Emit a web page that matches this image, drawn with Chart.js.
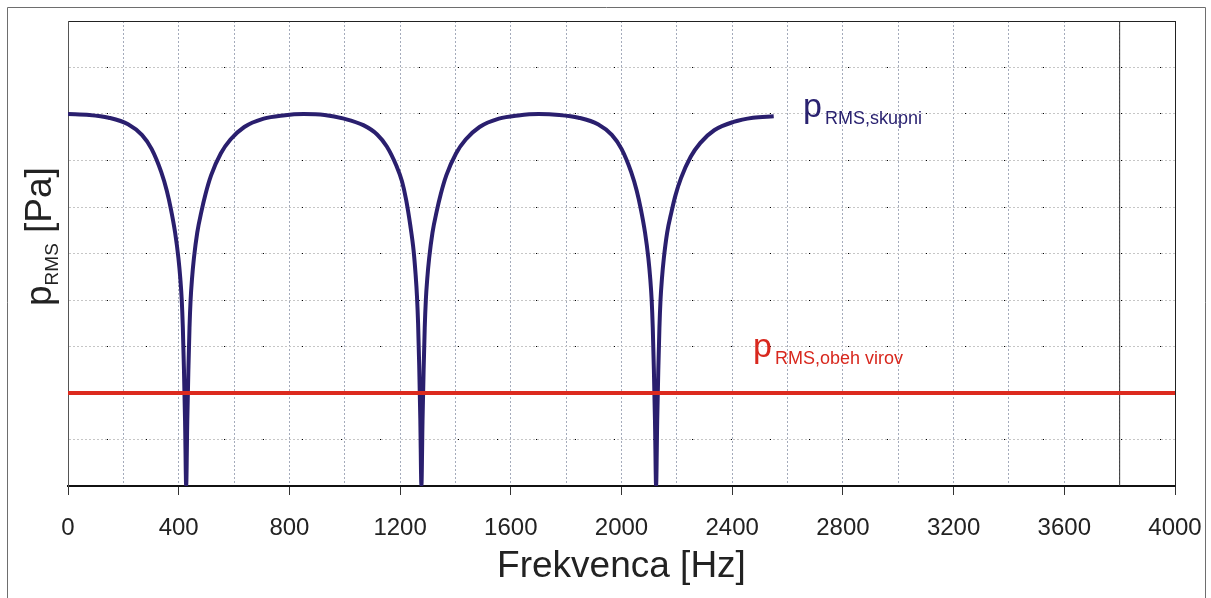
<!DOCTYPE html>
<html><head><meta charset="utf-8">
<script src="https://cdn.jsdelivr.net/npm/chart.js@4/dist/chart.umd.min.js"></script>
<style>html,body{margin:0;padding:0;background:#fff;}canvas{display:block}</style>
</head><body>
<canvas id="c" width="1211" height="598"></canvas>
<script>
// ---- data ----
const freqSkupni = [
  0, 77, 147, 217, 267, 302, 337, 357, 372, 387, 399, 406, 411, 415, 419, 423, 427,
  431, 435, 439, 443, 448, 455, 467, 482, 497, 517, 552, 587, 637, 707, 777, 852,
  927, 997, 1067, 1117, 1152, 1187, 1207, 1222, 1237, 1249, 1256, 1261, 1265, 1269, 1273, 1277,
  1281, 1285, 1289, 1293, 1298, 1305, 1317, 1332, 1347, 1367, 1402, 1437, 1487, 1557, 1627, 1701,
  1775, 1845, 1915, 1965, 2000, 2035, 2055, 2070, 2085, 2097, 2104, 2109, 2113, 2117, 2121, 2125,
  2129, 2133, 2137, 2141, 2146, 2153, 2165, 2180, 2195, 2215, 2250, 2285, 2335, 2405, 2475, 2550
];
const pSkupni = [
  8.0, 7.98, 7.92, 7.78, 7.55, 7.25, 6.75, 6.35, 5.95, 5.45, 4.9, 4.45, 4.0, 3.4, 2.5, 1.4, 0,
  1.4, 2.5, 3.4, 4.0, 4.45, 4.9, 5.45, 5.9, 6.28, 6.68, 7.15, 7.45, 7.72, 7.9, 7.97, 8.0,
  7.98, 7.9, 7.76, 7.56, 7.3, 6.88, 6.55, 6.15, 5.6, 5.05, 4.55, 4.08, 3.5, 2.6, 1.45, 0,
  1.4, 2.5, 3.4, 4.0, 4.45, 4.9, 5.45, 5.9, 6.28, 6.68, 7.15, 7.45, 7.72, 7.9, 7.97, 8.0,
  7.98, 7.92, 7.78, 7.55, 7.25, 6.75, 6.35, 5.95, 5.45, 4.9, 4.45, 4.0, 3.4, 2.5, 1.4, 0,
  1.4, 2.5, 3.4, 4.0, 4.45, 4.9, 5.45, 5.88, 6.25, 6.62, 7.08, 7.38, 7.65, 7.83, 7.92, 7.95
];
const freqObeh = [0, 4000];
const pObeh = [2, 2];
const freqMarker = [3800, 3800];
const pMarker = [0, 10];
const xGridFreqs = [0,200,400,600,800,1000,1200,1400,1600,1800,2000,2200,2400,2600,2800,3000,3200,3400,3600,3800,4000];
const xLabelFreqs = [0,400,800,1200,1600,2000,2400,2800,3200,3600,4000];
const yMin = 0, yMax = 10, yStep = 1;

const FONT = '"Liberation Sans", Arial, sans-serif';
const toXY = (xs, ys) => xs.map((x, i) => ({x, y: ys[i]}));

const textPlugin = {
  id: 'texts',
  afterDraw(chart) {
    const ctx = chart.ctx;
    ctx.save();
    // outer frame
    ctx.strokeStyle = '#6e6e6e'; ctx.lineWidth = 1;
    ctx.beginPath();
    ctx.moveTo(7.5, 598); ctx.lineTo(7.5, 7.5); ctx.lineTo(1205.5, 7.5); ctx.lineTo(1205.5, 598);
    ctx.stroke();

    ctx.textBaseline = 'alphabetic';
    ctx.textAlign = 'left';
    // series label: skupni
    ctx.fillStyle = '#2a2270';
    ctx.font = '34px ' + FONT;
    ctx.fillText('p', 803, 117);
    ctx.font = '18px ' + FONT;
    ctx.fillText('RMS,skupni', 825, 124);
    // series label: obeh virov
    ctx.fillStyle = '#d8281e';
    ctx.font = '34px ' + FONT;
    ctx.fillText('p', 753, 357);
    ctx.font = '18px ' + FONT;
    ctx.fillText('RMS,obeh virov', 775, 364);

    // y axis title (rotated)
    ctx.fillStyle = '#222';
    ctx.translate(51, 306);
    ctx.rotate(-Math.PI / 2);
    ctx.font = '37px ' + FONT;
    ctx.fillText('p', 0, 0);
    let w = ctx.measureText('p').width;
    ctx.font = '19px ' + FONT;
    ctx.fillText('RMS', w, 7);
    w += ctx.measureText('RMS').width;
    ctx.font = '37px ' + FONT;
    ctx.fillText(' [Pa]', w, 0);
    ctx.restore();
  }
};

new Chart(document.getElementById('c'), {
  type: 'line',
  data: {
    datasets: [
      { label: 'obeh', data: toXY(freqObeh, pObeh), borderColor: '#dc2a1e', borderWidth: 4, pointRadius: 0, order: 0 },
      { label: 'skupni', data: toXY(freqSkupni, pSkupni), borderColor: '#2a1f6e', borderWidth: 4, pointRadius: 0,
        cubicInterpolationMode: 'monotone', borderCapStyle: 'butt', order: 1 },
      { label: 'marker', data: toXY(freqMarker, pMarker), borderColor: '#333', borderWidth: 1, pointRadius: 0, order: 2 }
    ]
  },
  options: {
    responsive: false,
    animation: false,
    devicePixelRatio: 1,
    layout: { padding: { left: 0, right: 36, top: 21, bottom: 0 } },
    plugins: { legend: { display: false }, tooltip: { enabled: false } },
    scales: {
      x: {
        type: 'linear', position: 'bottom', min: 0, max: 4000,
        afterBuildTicks: s => { s.ticks = xGridFreqs.map(v => ({ value: v })); },
        afterFit: s => { s.height = 112; s.paddingLeft = 0; s.paddingRight = 0; },
        ticks: {
          autoSkip: false, maxRotation: 0, padding: 19, color: '#222',
          font: { family: FONT, size: 24 },
          callback: v => xLabelFreqs.includes(v) ? String(v) : ''
        },
        grid: {
          color: '#a4abbb', lineWidth: 1, tickLength: 9, tickWidth: 1,
          tickColor: c => (c.tick && xLabelFreqs.includes(c.tick.value)) ? '#333' : 'rgba(0,0,0,0)'
        },
        border: { display: true, color: '#111', width: 2, dash: [2, 2] },
        title: { display: true, text: 'Frekvenca [Hz]', color: '#222', font: { family: FONT, size: 37 }, padding: { top: 2, bottom: 9 } }
      },
      x2: {
        type: 'linear', position: 'top', min: 0, max: 4000,
        afterFit: s => { s.height = 0; s.paddingLeft = 0; s.paddingRight = 0; },
        ticks: { display: false },
        grid: { drawOnChartArea: false, drawTicks: false },
        border: { display: true, color: '#222', width: 1 }
      },
      y: {
        type: 'linear', position: 'left', min: yMin, max: yMax,
        afterFit: s => { s.width = 68; s.paddingTop = 0; s.paddingBottom = 0; },
        ticks: { display: false, stepSize: yStep },
        grid: { color: '#c6c6c6', lineWidth: 1, drawTicks: false },
        border: { display: true, color: '#555', width: 1, dash: [2, 2] }
      },
      y2: {
        type: 'linear', position: 'right', min: yMin, max: yMax,
        afterFit: s => { s.width = 0; s.paddingTop = 0; s.paddingBottom = 0; },
        ticks: { display: false, stepSize: yStep },
        grid: { color: '#000', lineWidth: 1, drawTicks: false },
        border: { display: true, color: '#222', width: 1, dash: [1, 38] }
      }
    }
  },
  plugins: [textPlugin]
});
</script>
</body></html>
